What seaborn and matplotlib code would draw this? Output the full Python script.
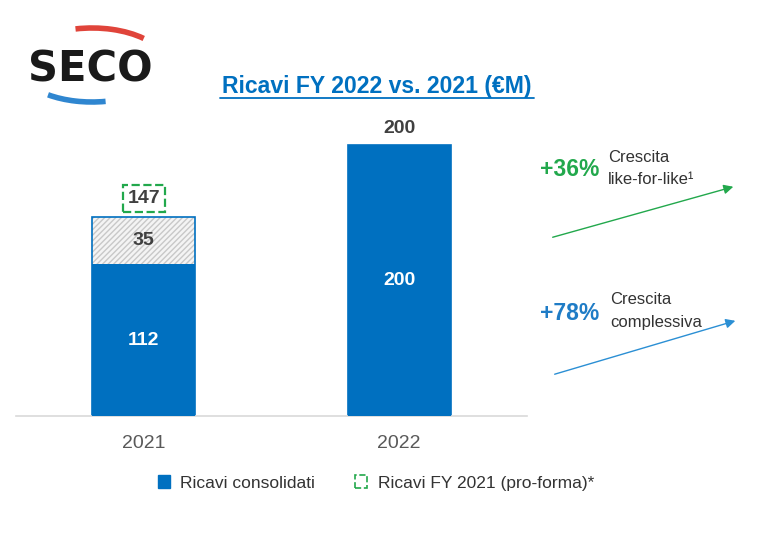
import matplotlib
matplotlib.use('Agg')
import matplotlib.pyplot as plt
import seaborn as sns
import pandas as pd
from matplotlib.patches import Patch, Rectangle, Arc

# dati del grafico
anni = ['2021', '2022']
ricavi_consolidati = [112, 200]
ricavi_pro_forma = [147, 200]
crescita_lfl = '+36%'
crescita_tot = '+78%'

BLU = '#0070c0'
VERDE = '#22a84c'
BLU_FRECCIA = '#2b8fd4'
GRIGIO_TESTO = '#404040'

sns.set_style('white')
plt.rcParams['font.family'] = ['Liberation Sans', 'DejaVu Sans']

df = pd.DataFrame({'anno': anni, 'consolidati': ricavi_consolidati, 'pro_forma': ricavi_pro_forma})

fig = plt.figure(figsize=(7.68, 5.49), dpi=100)
ax = fig.add_axes([16 / 768, 133 / 549, 511 / 768, 298 / 549])

# barra pro-forma (tratteggiata) sotto, consolidati sopra
sns.barplot(data=df, x='anno', y='pro_forma', color='#f4f4f4', saturation=1, width=0.405,
            edgecolor='#c8c8c8', hatch='//////', linewidth=0, ax=ax)
for p in list(ax.patches):
    ax.add_patch(Rectangle(p.get_xy(), p.get_width(), p.get_height(), fill=False,
                           edgecolor=BLU, linewidth=1.2, zorder=p.get_zorder() + 0.1))
sns.barplot(data=df, x='anno', y='consolidati', color=BLU, saturation=1, width=0.405,
            linewidth=0, ax=ax)
for p in ax.patches[-2:]:
    p.set_zorder(3)

ax.set_ylim(0, 220)
ax.set_xlim(-0.5, 1.5)
ax.set_xlabel('')
ax.set_ylabel('')
ax.set_yticks([])
sns.despine(ax=ax, left=True)
ax.spines['bottom'].set_color('#d9d9d9')
ax.spines['bottom'].set_linewidth(1.2)
ax.tick_params(axis='x', length=0, pad=14, labelsize=14, labelcolor='#595959')

# etichette dei valori
for i, (c, t) in enumerate(zip(ricavi_consolidati, ricavi_pro_forma)):
    ax.text(i, c / 2, f'{c}', ha='center', va='center', color='white',
            fontsize=14, fontweight='bold', zorder=5)
    if t > c:
        ax.text(i, c + (t - c) / 2, f'{t - c}', ha='center', va='center', color=GRIGIO_TESTO,
                fontsize=14, fontweight='bold', zorder=5)
        ax.text(i, t + 13.5, f'{t}', ha='center', va='center', color=GRIGIO_TESTO,
                fontsize=14, fontweight='bold', zorder=5,
                bbox=dict(boxstyle='square,pad=0.25', fc='white', ec=VERDE, ls='--', lw=1.6))
    else:
        ax.text(i, c + 12.5, f'{c}', ha='center', va='center', color=GRIGIO_TESTO,
                fontsize=14, fontweight='bold', zorder=5)

# livello sovrapposto in pixel per logo, titolo e frecce
ov = fig.add_axes([0, 0, 1, 1])
ov.set_xlim(0, 768)
ov.set_ylim(549, 0)
ov.axis('off')
ov.patch.set_alpha(0)

ov.text(90, 70, 'SECO', ha='center', va='center', fontsize=30, fontweight='bold',
        color='#1a1a1a', family='DejaVu Sans')
ov.add_patch(Arc((92, 66), 150, 76, theta1=246, theta2=332, color='#e0443a', lw=4))
ov.add_patch(Arc((92, 64), 150, 76, theta1=70, theta2=145, color='#2f86d0', lw=4))

ov.text(377, 86, 'Ricavi FY 2022 vs. 2021 (€M)', ha='center', va='center', fontsize=16.6,
        fontweight='bold', color=BLU)
ov.plot([220, 534], [97.5, 97.5], color=BLU, lw=1.3)

ov.text(540, 170, crescita_lfl, ha='left', va='center', fontsize=16.5, fontweight='bold', color=VERDE)
ov.text(608, 157, 'Crescita', ha='left', va='center', fontsize=12, color='#333333')
ov.text(608, 180, 'like-for-like¹', ha='left', va='center', fontsize=12, color='#333333')
ov.annotate('', xy=(736, 186), xytext=(550, 238),
            arrowprops=dict(arrowstyle='-|>', color=VERDE, lw=1, mutation_scale=14))

ov.text(540, 313, crescita_tot, ha='left', va='center', fontsize=16.5, fontweight='bold', color='#1f7cc6')
ov.text(610, 299, 'Crescita', ha='left', va='center', fontsize=12, color='#333333')
ov.text(610, 322, 'complessiva', ha='left', va='center', fontsize=12, color='#333333')
ov.annotate('', xy=(738, 320), xytext=(552, 375),
            arrowprops=dict(arrowstyle='-|>', color=BLU_FRECCIA, lw=1, mutation_scale=14))

handles = [Patch(facecolor=BLU, edgecolor=BLU),
           Patch(facecolor='white', edgecolor=VERDE, linestyle='--', linewidth=1.2)]
fig.legend(handles, ['Ricavi consolidati', 'Ricavi FY 2021 (pro-forma)*'], loc='center',
           bbox_to_anchor=(376 / 768, 1 - 483 / 549), ncol=2, frameon=False, fontsize=12.5,
           handlelength=0.7, handleheight=0.7, handletextpad=0.6, columnspacing=2.3,
           labelcolor='#333333')

fig.savefig('out.png', dpi=100, facecolor='white')
